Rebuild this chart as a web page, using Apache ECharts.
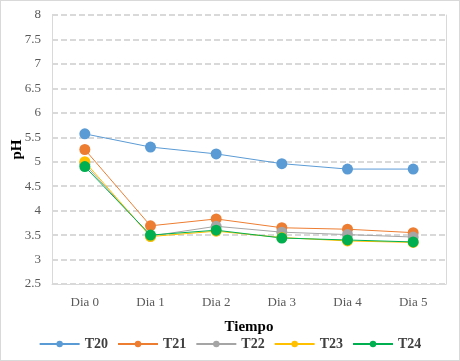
<!DOCTYPE html>
<html>
<head>
<meta charset="utf-8">
<script src="https://cdn.jsdelivr.net/npm/echarts@6/dist/echarts.min.js"></script>
<style>
  html, body { margin: 0; padding: 0; background: #fff; }
  #chart { width: 460px; height: 361px; box-sizing: border-box; border: 1px solid #d9d9d9; }
</style>
</head>
<body>
<div id="chart"></div>
<script>
// datos de pH por dia
var categories = ['Dia 0', 'Dia 1', 'Dia 2', 'Dia 3', 'Dia 4', 'Dia 5'];
var t20 = [5.57, 5.30, 5.16, 4.96, 4.85, 4.85];
var t21 = [5.25, 3.69, 3.83, 3.65, 3.62, 3.55];
var t22 = [4.95, 3.48, 3.68, 3.56, 3.51, 3.46];
var t23 = [5.00, 3.47, 3.58, 3.45, 3.38, 3.35];
var t24 = [4.90, 3.50, 3.60, 3.44, 3.40, 3.36];
var seriesNames = ['T20', 'T21', 'T22', 'T23', 'T24'];
var colors = ['#5b9bd5', '#ed7d31', '#a5a5a5', '#ffc000', '#00b050'];

var serif = '"Liberation Serif", "DejaVu Serif", serif';
var chart = echarts.init(document.getElementById('chart'));

var series = [t20, t21, t22, t23, t24].map(function (d, i) {
    return {
        name: seriesNames[i],
        type: 'line',
        data: d,
        symbol: 'circle',
        symbolSize: 11,
        lineStyle: { width: 1, color: colors[i] },
        itemStyle: { color: colors[i] }
    };
});

chart.setOption({
    animation: false,
    color: colors,
    grid: { left: 51, right: 13, top: 14, bottom: 76, containLabel: false, outerBoundsMode: 'none' },
    xAxis: {
        type: 'category',
        data: categories,
        boundaryGap: true,
        name: 'Tiempo',
        nameLocation: 'middle',
        nameGap: 36,
        nameMoveOverlap: false,
        nameTextStyle: { fontFamily: serif, fontWeight: 'bold', fontSize: 15, color: '#000' },
        axisLine: { show: true, lineStyle: { color: '#d9d9d9' } },
        axisTick: { show: false },
        axisLabel: { fontFamily: serif, fontSize: 13, color: '#595959', margin: 12 }
    },
    yAxis: [{
        type: 'value',
        min: 2.5,
        max: 8,
        interval: 0.5,
        name: 'pH',
        nameLocation: 'middle',
        nameGap: 27,
        nameMoveOverlap: false,
        nameTextStyle: { fontFamily: serif, fontWeight: 'bold', fontSize: 15, color: '#000' },
        axisLine: { show: true, lineStyle: { color: '#d9d9d9' } },
        axisTick: { show: false },
        axisLabel: { fontFamily: serif, fontSize: 13, color: '#595959', margin: 11 },
        splitLine: { show: true, lineStyle: { color: '#d9d9d9', width: 2, type: [6, 3] } }
    }, {
        type: 'value',
        min: 2.5,
        max: 8,
        interval: 0.5,
        position: 'right',
        axisLine: { show: true, lineStyle: { color: '#d9d9d9' } },
        axisTick: { show: false },
        axisLabel: { show: false },
        splitLine: { show: false }
    }],
    legend: {
        top: 331,
        left: 'center',
        itemWidth: 40,
        itemHeight: 8,
        itemGap: 9,
        textStyle: { fontFamily: serif, fontWeight: 'bold', fontSize: 14, color: '#404040' },
        data: seriesNames
    },
    series: series
});
</script>
</body>
</html>
